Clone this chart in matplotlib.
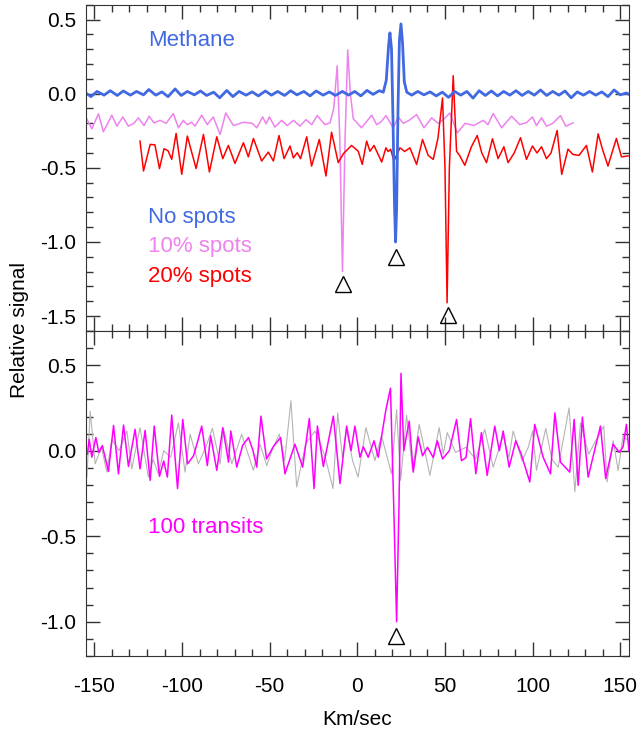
import matplotlib
matplotlib.use("Agg")
import matplotlib.pyplot as plt
from matplotlib.ticker import MultipleLocator

plt.rcParams["font.family"] = ["Liberation Sans", "DejaVu Sans"]
plt.rcParams["axes.unicode_minus"] = False
plt.rcParams["lines.solid_joinstyle"] = "round"

# --- data (km/s, relative signal) ---
# methane template, no spots
methane_v = [-155, -152, -148.5, -144.5, -141, -137, -133.5, -129.5, -126, -122,
             -119, -115, -111.5, -108, -104, -100.5, -97, -93, -89.5, -86,
             -82, -78.5, -74.5, -71, -67.5, -63.5, -60, -56.5, -52.5, -49,
             -45.5, -41.5, -38, -34.5, -30.5, -27, -23.5, -19.5, -16, -12.5,
             -8.5, -5, -1.5, 2, 5.5, 9, 12.5,
             14.8, 16.5, 17.8, 18.6, 19.5, 20.3, 21.2, 21.8, 22.4, 23.2,
             24.0, 24.9, 25.8, 26.8, 28.2,
             31, 34.5, 38, 41.5, 45, 48.5, 52, 55.5, 59, 62.5,
             66, 69.5, 73, 76.5, 80, 83.5, 87, 90.5, 94, 97.5,
             101, 104.5, 108, 111.5, 115, 118.5, 122, 125.5, 129, 132.5,
             136, 139.5, 143, 146.5, 150, 153.5, 155]
methane_s = [0.005, -0.02, 0.015, -0.01, 0.02, -0.012, 0.018, -0.01, 0.015, -0.008,
             0.028, -0.01, 0.012, -0.02, 0.032, -0.012, 0.015, -0.008, 0.018, -0.012,
             0.01, -0.028, 0.022, -0.02, 0.015, -0.01, 0.012, -0.015, 0.018, -0.01,
             0.015, -0.012, 0.02, -0.008, 0.015, -0.015, 0.018, -0.01, 0.012, -0.012,
             0.015, -0.01, 0.015, -0.015, 0.022, -0.005, 0.02,
             0.01, 0.09, 0.32, 0.41, 0.30, -0.15, -0.75, -1.0, -0.78, -0.1,
             0.36, 0.47, 0.34, 0.08, 0.01,
             -0.01, 0.015, -0.008, 0.012, -0.015, 0.01, -0.025, 0.015, -0.01, 0.015,
             -0.03, 0.02, -0.012, 0.018, -0.015, 0.015, -0.01, 0.02, -0.012, 0.015,
             -0.01, 0.025, -0.012, 0.015, -0.01, 0.018, -0.028, 0.012, -0.01, 0.015,
             -0.01, 0.012, -0.02, 0.025, -0.008, 0.005, -0.005]

# 10% spots
spots10_v = [-154.7, -151.5, -147.7, -144.9, -140.1, -137.2, -133.8, -130.6, -127.5, -124.9,
             -121.7, -118.8, -116, -112.5, -109.1, -105, -102.1, -99.3, -97, -94.6,
             -92.6, -88.8, -85.6, -82.2, -78.3, -75.1, -70.7, -65, -60, -57.4,
             -54, -52.1, -50.2, -47, -43.2, -40, -36.5, -32.7, -29.3, -26,
             -22.9, -18.5, -15.6, -13.5, -11.5, -10, -8.5, -7, -5.5, -4,
             -2.3, 2.4, 8.2, 11, 13.5, 16.3, 20.5, 23.3, 26.2, 29.5,
             33.8, 38, 42.4, 46.1, 49.5, 52.8, 57, 61.5, 66.5, 71.8,
             74.5, 77.5, 82.3, 88, 92.7, 96.5, 99.9, 102.2, 105.1, 107.9,
             111.5, 115.9, 118.9, 123.1]
spots10_s = [-0.163, -0.237, -0.136, -0.257, -0.145, -0.219, -0.157, -0.219, -0.2, -0.163,
             -0.215, -0.152, -0.197, -0.18, -0.2, -0.134, -0.23, -0.18, -0.21, -0.192,
             -0.219, -0.145, -0.209, -0.157, -0.275, -0.13, -0.215, -0.193, -0.2, -0.23,
             -0.157, -0.203, -0.157, -0.225, -0.18, -0.215, -0.18, -0.219, -0.175, -0.209,
             -0.148, -0.209, -0.197, -0.1, 0.188, -0.3, -1.2, -0.3, 0.295, 0.0,
             -0.17, -0.23, -0.145, -0.209, -0.19, -0.148, -0.23, -0.157, -0.2, -0.18,
             -0.141, -0.23, -0.163, -0.2, -0.17, -0.13, -0.264, -0.2, -0.215, -0.18,
             -0.209, -0.134, -0.23, -0.152, -0.209, -0.195, -0.157, -0.215, -0.163, -0.219,
             -0.2, -0.148, -0.219, -0.197]

# 20% spots
spots20_v = [-124, -122, -118.2, -115.5, -112.9, -110.3, -108, -105.9, -103.4, -100.2,
             -97, -92, -87.8, -84.4, -80.2, -76.8, -73.6, -69.8, -65, -62.2,
             -59.3, -54.6, -50.8, -47.9, -44.7, -41.8, -38.4, -36.5, -34.3, -32.4,
             -28.9, -26.1, -21.7, -17.9, -14.7, -10.9, -8, -3.3, 0.5, 2.8,
             5.3, 7.2, 9.5, 11.5, 13.9, 16.3, 17.5, 19, 20.9, 24.3,
             27, 30, 33.8, 37.2, 40.4, 43.3, 46, 48.6, 50, 51.2,
             52.5, 54.7, 56.6, 58.5, 61.3, 65, 68.4, 71, 73.7, 77.1,
             80.3, 83.6, 86, 89.5, 93.1, 96.5, 99.9, 102.5, 105.1, 107.9,
             110.5, 114, 116.6, 120.2, 123, 126.5, 130.7, 134.1, 137.4, 140,
             143, 147.8, 150.7, 154.5]
spots20_s = [-0.32, -0.521, -0.342, -0.345, -0.505, -0.371, -0.385, -0.443, -0.268, -0.544,
             -0.286, -0.505, -0.275, -0.528, -0.291, -0.438, -0.349, -0.47, -0.331, -0.426,
             -0.302, -0.454, -0.394, -0.454, -0.282, -0.438, -0.353, -0.433, -0.398, -0.438,
             -0.291, -0.488, -0.309, -0.555, -0.26, -0.465, -0.405, -0.349, -0.388, -0.477,
             -0.32, -0.388, -0.349, -0.4, -0.461, -0.365, -0.39, -0.375, -0.454, -0.365,
             -0.39, -0.365, -0.477, -0.309, -0.416, -0.443, -0.3, -0.029, -0.5, -1.41,
             -0.5, 0.121, -0.388, -0.42, -0.483, -0.36, -0.282, -0.4, -0.465, -0.304,
             -0.438, -0.358, -0.465, -0.4, -0.297, -0.443, -0.353, -0.4, -0.358, -0.438,
             -0.4, -0.248, -0.544, -0.374, -0.41, -0.416, -0.349, -0.528, -0.271, -0.38,
             -0.488, -0.302, -0.426, -0.42]

# 100 transits, magenta
transits_v = [-154, -153, -151.5, -149.2, -147.5, -145.5, -142, -139.1, -136.3, -133.4,
              -130.6, -126.8, -124, -121.1, -118.2, -115.9, -112.9, -110.5, -108.4, -105.9,
              -102.6, -99.6, -96.9, -93.5, -91.5, -88.8, -85.6, -83.7, -80.2, -76.8,
              -73.5, -72.2, -68.8, -65.5, -62.1, -59.5, -57.4, -55, -51.8, -48,
              -43.8, -41.3, -35.6, -31.2, -27.4, -24.7, -22.8, -19.4, -13.7, -9.9,
              -6.1, -3.6, -1.4, 1.5, 3.4, 6.2, 9.5, 11.9, 16.3, 18.9,
              20.7, 22.4, 23.8, 24.9, 26.5, 29.6, 31.9, 34.7, 37.2, 40,
              43.3, 45.6, 48.6, 52.5, 56.6, 59.4, 62, 64.6, 67.6, 70.8,
              74.1, 78.4, 81, 83.2, 86.6, 90.4, 93.5, 98.4, 101.2, 106,
              110.2, 112.7, 115.9, 121.2, 123.7, 126, 128.4, 131.7, 138.7, 141.7,
              145.9, 149.5, 151.6, 153.5, 155]
transits_s = [-0.02, 0.067, -0.038, 0.077, -0.01, 0.03, -0.121, 0.148, -0.135, 0.15,
              -0.092, 0.125, -0.106, 0.119, -0.173, 0.144, -0.15, -0.06, -0.154, 0.208,
              -0.221, 0.183, -0.077, -0.03, 0.04, 0.144, -0.087, 0.087, -0.115, 0.135,
              -0.067, 0.115, -0.096, 0.03, 0.077, 0.0, -0.096, 0.202, -0.048, 0.023,
              0.077, -0.135, 0.038, -0.096, 0.188, -0.221, 0.144, -0.092, 0.202, -0.192,
              0.144, 0.0, 0.144, -0.038, 0.023, -0.038, 0.058, -0.038, 0.24, 0.365,
              -0.3, -1.0, -0.3, 0.452, 0.0, 0.173, -0.125, 0.081, -0.03, 0.02,
              -0.04, 0.058, -0.048, 0.0, 0.183, -0.058, -0.04, 0.188, -0.135, 0.106,
              -0.144, 0.144, 0.0, 0.115, -0.096, 0.058, -0.02, -0.183, 0.154, -0.038,
              -0.135, 0.221, -0.067, -0.125, 0.183, -0.202, 0.196, -0.154, 0.144, -0.163,
              0.038, -0.01, 0.023, 0.154, 0.0]

# noise-only comparison, gray
noise_v = [-154.3, -152.4, -149.6, -146, -142.9, -140.1, -136, -131.5, -128.7, -124,
           -119.2, -116.5, -113.5, -110.5, -106.5, -102.1, -98.3, -95.4, -90.7, -86.5,
           -82.7, -78.3, -76.4, -71.6, -66, -59.3, -55.5, -51.7, -48, -44.5,
           -41.5, -37.9, -34.6, -29.5, -24.2, -18.5, -13.9, -11.2, -8.5, -6.3,
           -2.7, 0.4, 4.9, 10, 13.8, 19.5, 22.4, 24.7, 28.1, 31.5,
           35.3, 41.4, 46.7, 49, 51.3, 56, 62, 67.5, 72.7, 77.5,
           83.2, 86.5, 88.9, 94, 97.5, 100, 102.2, 107.5, 111, 114.6,
           120.8, 124.1, 127.3, 132, 136, 140.6, 142.5, 146, 148.8, 151.6,
           154.5]
noise_s = [-0.154, 0.231, -0.077, 0.02, -0.125, 0.067, 0.0, 0.115, -0.106, 0.135,
           -0.154, -0.05, -0.135, 0.0, -0.038, 0.163, -0.125, 0.096, -0.077, 0.02,
           0.131, -0.077, 0.131, -0.077, 0.096, -0.115, 0.038, -0.087, 0.02, 0.096,
           -0.06, 0.292, -0.212, 0.04, 0.115, -0.03, -0.221, 0.221, -0.04, 0.125,
           -0.058, -0.154, 0.135, -0.058, 0.087, -0.135, 0.24, -0.173, 0.208, -0.115,
           0.154, -0.144, 0.135, -0.02, 0.106, -0.01, 0.02, -0.05, 0.125, -0.096,
           0.087, -0.04, 0.115, -0.06, 0.02, 0.115, -0.115, 0.131, -0.05, -0.096,
           0.25, -0.24, 0.163, -0.02, 0.058, 0.144, -0.183, 0.058, -0.115, 0.087,
           0.058]

# planet velocity markers
top_marker_v = [-8.2, 22, 51.7]
top_marker_s = [-1.28, -1.10, -1.49]
bot_marker_v = [22]
bot_marker_s = [-1.085]

BLUE = "#4169e1"
VIOLET = "#ee82ee"
RED = "#ff0000"
MAGENTA = "#ff00ff"
GRAY = "#b4b4b4"
AXC = "#333333"

fig = plt.figure(figsize=(6.38, 7.30), dpi=100)
ax1 = fig.add_axes([0.1343, 0.5466, 0.8516, 0.4470])
ax2 = fig.add_axes([0.1343, 0.1014, 0.8516, 0.4452])

# top panel
ax1.plot(spots10_v, spots10_s, color=VIOLET, lw=1.1)
ax1.plot(spots20_v, spots20_s, color=RED, lw=1.1)
ax1.plot(methane_v, methane_s, color=BLUE, lw=2.0)
ax1.plot(top_marker_v, top_marker_s, ls="none", marker="^", ms=12,
         mfc="none", mec="black", mew=1.0)
ax1.set_ylim(-1.6, 0.6)
ax1.text(-119.4, 0.356, "Methane", color=BLUE, fontsize=16, ha="left", va="center")
ax1.text(-119.4, -0.832, "No spots", color=BLUE, fontsize=16, ha="left", va="center")
ax1.text(-119.4, -1.03, "10% spots", color=VIOLET, fontsize=16, ha="left", va="center")
ax1.text(-119.4, -1.235, "20% spots", color=RED, fontsize=16, ha="left", va="center")

# bottom panel
ax2.plot(noise_v, noise_s, color=GRAY, lw=0.8)
ax2.plot(transits_v, transits_s, color=MAGENTA, lw=1.1)
ax2.plot(bot_marker_v, bot_marker_s, ls="none", marker="^", ms=12,
         mfc="none", mec="black", mew=1.0)
ax2.set_ylim(-1.2, 0.7)
ax2.text(-119.4, -0.45, "100 transits", color=MAGENTA, fontsize=16, ha="left", va="center")

for ax in (ax1, ax2):
    ax.set_xlim(-155, 155)
    ax.xaxis.set_major_locator(MultipleLocator(50))
    ax.xaxis.set_minor_locator(MultipleLocator(10))
    ax.yaxis.set_major_locator(MultipleLocator(0.5))
    ax.yaxis.set_minor_locator(MultipleLocator(0.1))
    ax.tick_params(which="both", direction="in", top=True, right=True,
                   colors=AXC, labelcolor="black", labelsize=15)
    ax.tick_params(which="major", length=10, width=1)
    ax.tick_params(which="minor", length=5, width=1)
    ax.tick_params(axis="x", pad=15)
    ax.tick_params(axis="y", pad=7)
    for sp in ax.spines.values():
        sp.set_color(AXC)
    ax.yaxis.set_major_formatter(plt.FuncFormatter(lambda v, p: f"{v:.1f}"))

ax1.tick_params(axis="x", labelbottom=False)
ax2.set_xlabel("Km/sec", fontsize=15, labelpad=10)
fig.text(0.03, 1 - 330 / 730, "Relative signal", rotation=90, fontsize=15,
         ha="center", va="center")

fig.savefig("out.png", dpi=100)
